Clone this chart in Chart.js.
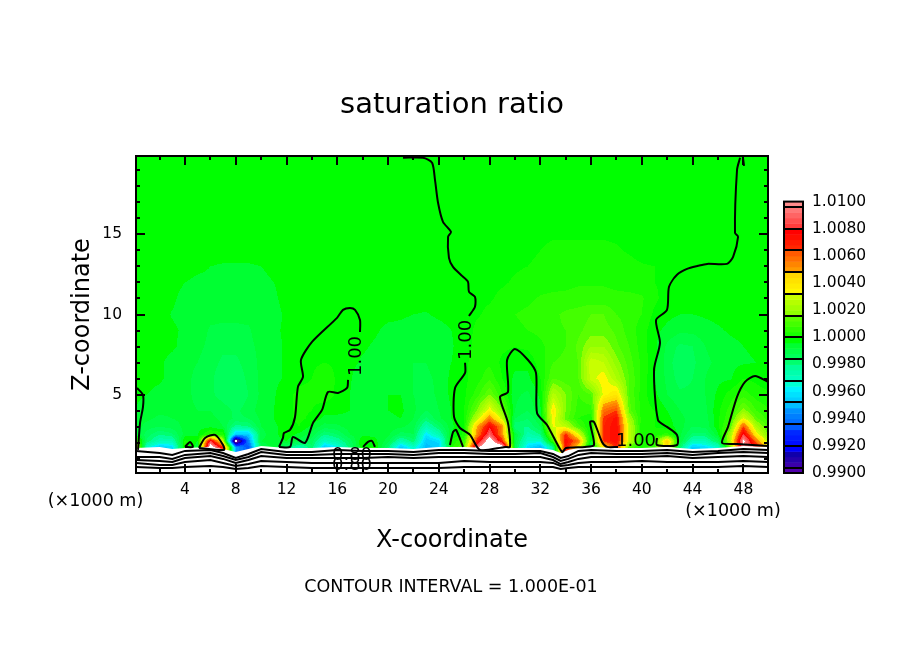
<!DOCTYPE html>
<html>
<head>
<meta charset="utf-8">
<style>html,body{margin:0;padding:0;background:#fff}canvas{display:block}</style>
<script src="https://cdn.jsdelivr.net/npm/chart.js@4/dist/chart.umd.js"></script>
</head>
<body>
<canvas id="c" width="904" height="654"></canvas>
<script>
const FONT = "'DejaVu Sans'";

// tick positions (km)
const xTicks = [2,4,6,8,10,12,14,16,18,20,22,24,26,28,30,32,34,36,38,40,42,44,46,48];
const xTickLabels = [4,8,12,16,20,24,28,32,36,40,44,48];
const zTicks = [1,2,3,4,5,6,7,8,9,10,11,12,13,14,15,16,17,18,19];
const zTickLabels = [5,10,15];
const barTicks = [0.99,0.992,0.994,0.996,0.998,1,1.002,1.004,1.006,1.008,1.01];

// colour bar, value in 1e-4 from 1.0
const barStops = [-100,-97,-96,-81,-80,-65,-64,-49,-48,-33,-32,-17,-16,-4,0,16,17,32,33,48,49,64,65,80,81,84,96,100];
const barColors = [
  [110,0,140],[110,0,140],[80,0,170],[0,0,170],[0,0,255],[0,50,255],[0,90,255],[0,160,255],[0,190,255],[0,255,255],
  [0,255,210],[0,255,140],[0,255,110],[0,255,50],[0,255,0],[90,255,0],[130,255,0],[200,255,0],[255,255,0],[255,215,0],
  [255,170,0],[255,90,0],[255,50,0],[255,0,0],[255,40,40],[255,60,60],[255,120,120],[255,140,140]
];

// saturation ratio, as (S - 1) * 1e4, one row per height
const xColumns = [0,1,2,3,4,5,6,7,8,9,10,11,12,13,14,15,16,17,18,19,20,21,22,23,24,25,26,27,28,29,30,31,32,33,34,35,36,37,38,39,40,41,42,43,44,45,46,47,48,49,50];
const zLevels = [1.7,2.1,2.5,3,3.5,4,5,6,7,8,9,10,11,12,13,14,16,20];
const rowZ1p7 = [50,-30,-45,-40,5,-5,115,70,-50,-65,-10,-4,-15,-25,-15,-45,-35,-15,2,2,-15,-45,-30,-48,-45,5,15,95,125,115,-10,-40,-50,-20,75,40,-8,40,70,15,2,10,45,-15,-45,-40,-30,20,95,80,40];
const rowZ2p1 = [20,-15,-25,-25,3,-2,85,30,-112,-55,-6,-3,-2,-8,-12,-28,-22,-12,2,-1,-8,-25,-15,-45,-40,3,10,70,112,70,-8,-30,-30,10,78,60,-4,70,78,30,3,8,50,-6,-25,-25,-12,30,105,60,25];
const rowZ2p5 = [-3,-12,-18,-15,-4,-2,8,5,-45,-45,-8,-3,0,-3,-8,-18,-14,-6,-3,-3,-5,-12,-10,-38,-25,-2,3,55,92,55,-5,-24,-18,25,70,35,-2,70,78,30,3,3,8,-5,-15,-15,-3,25,85,40,15];
const rowZ3 = [-3,-8,-10,-8,-5,-4,-3,-6,-20,-18,-6,-3,0,2,-3,-8,-7,-4,-4,-5,-4,-5,-8,-25,-14,-3,2,50,80,55,-18,-18,-10,35,30,12,1,70,78,30,3,2,0,-4,-10,-9,1,15,65,25,12];
const rowZ3p5 = [-2,-5,-7,-6,-5,-5,-5,-7,-11,-10,-5,-2,1,3,1,-3,-3,-3,-5,-5,-3,-2,-6,-15,-7,-2,2,28,58,30,-10,-14,-6,38,16,6,3,68,76,24,4,2,-1,-4,-9,-8,1,10,35,15,8];
const rowZ4 = [-2,-4,-5,-5,-5,-6,-6,-8,-11,-8,-4,-2,1,3,2,-1,-1,-2,-5,-4,-2,-1,-5,-10,-6,-2,2,18,38,18,-6,-10,-3,40,18,8,8,60,66,16,4,2,-2,-6,-10,-7,1,8,20,10,6];
const rowZ5 = [-1,-2,-3,-4,-5,-7,-9,-12,-14,-10,-5,-2.5,1,3,3,5,1,-2,-5,-4,-2,-2,-6,-8,-5,-1,1,8,18,6,-5,-7,-1,28,18,10,14,36,42,14,4,-1,-6,-9,-9,-6,-1,4,8,4,3];
const rowZ6 = [-1,-1,-1.5,-3,-5,-7,-9,-13,-13,-9,-5,-3,-1.5,1,2,6,1,-1.5,-5,-4,-3,-3,-6,-7,-5,-1,1,4,9,2,-3,-3,2,14,12,14,32,37,26,14,5,-2,-7,-12,-10,-6,-3,-2.5,2,1,-1];
const rowZ7 = [0,-1,-1.5,-3,-5,-6,-8,-11,-11,-8,-5,-3,-1.5,-1,1,2,1,-1,-2.5,-3,-4,-4,-6,-6,-4,-2,1,4,5,1,-1,-1,4,10,11,14,33,30,20,12,5,-1,-8,-13,-11,-7,-5,-3,-2.5,-2,-1.5];
const rowZ8 = [0,-1,-1,-1.5,-3,-5,-7,-9,-9,-7,-5,-3,-1.5,-1,-1,-1,-1,-1,-1.5,-2.5,-4,-4,-5,-5,-4,-2.5,0.5,3,4,3,2,3,5,8,10,15,22,22,15,10,4,-1,-7,-11,-10,-6,-4,-3,-2,-1.5,-1];
const rowZ9 = [0,-1,-1,-1.5,-2.5,-4,-6.5,-6.5,-6.5,-6.5,-4,-2.5,-1.5,-1,-1,-1,-1,-1,-1,-1.5,-3,-3,-3.5,-3.5,-3,-2,0,3,4,5,5,6,7,9,10,13,16,16,13,8,4,-1,-3,-5,-5,-3.5,-2.5,-1.5,-1,-1,-1];
const rowZ10 = [0,0,-1,-2.2,-3,-4,-5,-5.5,-5.5,-5,-4,-3,-1.5,-1,-1,-1,-1,-1,-0.5,-0.5,-1,-1.5,-2,-2.2,-1.5,-1,0,1.5,3,5,6,7,8,9,11,12,14,14,10,8,6,1,-1,-2,-2,-1.5,-1,-1,-1,-1,-1];
const rowZ11 = [0,0,-1,-1.5,-3,-3,-4,-4,-4,-4,-3,-2.5,-1,-1,-1,0,0,0,-1,-1,-1,-1,-1,-1,-1,0,1,1,1.5,3,4,5,6.5,7,7,7.5,7.5,7.5,7,7,6.5,3,0,-1,-1,-1,-1,-1,-1,0,0];
const rowZ12 = [0,0,0,-1,-2,-3,-3,-3,-3,-3,-3,-2,-1,0,0,0,0,0,0,0,0,0,0,0,0,0,0,1,1,1.5,2.5,3.5,4,4.5,5,5.5,5.5,5.5,5,4.5,4,2,1,0,0,0,0,0,0,0,0];
const rowZ13 = [0,0,0,0,0,-1,-2,-2.5,-2.5,-2.5,-2,-1,0,0,0,0,0,0,0,0,0,0,0,0,0,0,0,0,0,1,1.5,2,3,3.5,4,4,4,4,4,3.5,2.5,2,0.5,0,0,0,0,0,0,0,0];
const rowZ14 = [0,0,0,0,0,0,0,0,0,0,0,0,0,0,0,0,0,0,0,0,0,0,0,0,0,0,0,0,0,0,0,1,2,3,3,3,3,3,2.5,1.5,0,0,0,0,0,0,0,0,0,0,0];
const rowZ16 = [0,0,0,0,0,0,0,0,0,0,0,0,0,0,0,0,0,0,0,0,0,0,0,0,0,0,0,0,0,0,0,0,0,0,0,0,0,0,0,0,0,0,0,0,0,0,0,0,0,0,0];
const rowZ20 = [0,0,0,0,0,0,0,0,0,0,0,0,0,0,0,0,0,0,0,0,0,0,0,0,0,0,0,0,0,0,0,0,0,0,0,0,0,0,0,0,0,0,0,0,0,0,0,0,0,0,0];
const satRows = [rowZ1p7,rowZ2p1,rowZ2p5,rowZ3,rowZ3p5,rowZ4,rowZ5,rowZ6,rowZ7,rowZ8,rowZ9,rowZ10,rowZ11,rowZ12,rowZ13,rowZ14,rowZ16,rowZ20];

// terrain-hugging low contours
const groundX = [0.14,2,3,4,6,7,8,9,10,12,14,16,18,20,22,24,26,28,30,32,33,33.6,34.2,35,36,38,40,42,44,46,48,49.94];
const groundTop = [1.66,1.73,1.60,1.66,1.73,1.60,1.41,1.60,1.79,1.66,1.66,1.73,1.66,1.66,1.60,1.73,1.73,1.66,1.66,1.66,1.54,1.35,1.54,1.66,1.73,1.66,1.66,1.73,1.60,1.66,1.79,1.73];
const lowLine1 = [1.48,1.35,1.23,1.48,1.54,1.35,1.04,1.29,1.60,1.41,1.41,1.54,1.48,1.48,1.41,1.54,1.54,1.48,1.48,1.48,1.29,1.04,1.16,1.48,1.54,1.48,1.48,1.54,1.41,1.48,1.60,1.54];
const lowLine2 = [1.10,1.10,0.98,1.23,1.35,1.16,0.91,1.10,1.41,1.23,1.23,1.29,1.29,1.29,1.23,1.35,1.35,1.29,1.29,1.35,1.10,0.85,0.98,1.23,1.35,1.29,1.29,1.35,1.23,1.35,1.41,1.35];
const lowLine3 = [0.91,0.85,0.79,1.04,1.16,0.98,0.73,0.91,1.16,1.04,1.04,1.04,1.04,1.10,1.04,1.10,1.10,1.10,1.10,1.10,0.91,0.66,0.79,0.98,1.10,1.10,1.10,1.16,1.04,1.10,1.16,1.10];
const lowLine4 = [0.73,0.60,0.60,0.79,0.91,0.73,0.54,0.66,0.85,0.79,0.73,0.73,0.73,0.73,0.73,0.73,0.85,0.79,0.79,0.79,0.73,0.54,0.60,0.73,0.79,0.79,0.85,0.79,0.79,0.79,0.85,0.79];
const lowLine5 = [0.48,0.41,0.41,0.48,0.54,0.48,0.35,0.41,0.54,0.48,0.41,0.41,0.41,0.41,0.41,0.41,0.48,0.48,0.48,0.48,0.48,0.35,0.41,0.48,0.48,0.48,0.48,0.48,0.48,0.48,0.54,0.48];

// 1.00 contour pieces as [x, z] in km
const contourLeft = [[0.22,5.41],[0.69,4.98],[0.69,4.23],[0.46,3.23],[0.3,1.54]];
const contourTriangle = [[4.0,1.73],[4.4,2.04],[4.63,1.73],[4.0,1.73]];
const contourHump = [[5.1,1.66],[5.58,2.29],[6.37,2.48],[7.0,1.85],[7.07,1.54],[5.1,1.66]];
const contourTallA = [[11.41,1.73],[11.72,2.29],[11.8,2.6],[12.28,2.79],[12.67,3.6],[12.9,5.48],[13.3,6.1],[13.14,7.16],[14.01,8.29],[15.98,9.79],[16.45,10.29],[17.0,10.41],[17.4,10.29],[17.79,9.66],[17.79,8.91]];
const contourTallB = [[16.85,5.91],[16.77,5.41],[16.06,5.1],[15.27,5.16],[14.8,4.04],[14.09,3.23],[13.46,1.98],[12.51,2.35],[12.28,1.73],[11.41,1.73]];
const contourSmall = [[18.03,1.73],[18.42,2.04],[18.74,2.1],[18.97,1.73]];
const contourMidTop = [[21.18,19.79],[22.76,19.79],[23.47,19.48],[23.7,18.41],[23.94,16.98],[24.33,15.79],[24.96,15.16],[24.73,14.85],[24.8,13.54],[25.12,12.98],[25.83,12.41],[26.3,12.04],[26.38,11.41],[26.85,11.1],[26.85,10.48],[26.38,9.91]];
const contourMidLow = [[26.07,6.98],[26.07,6.35],[25.28,5.41],[25.2,3.6],[25.67,2.91],[26.46,2.48],[27.25,1.54],[29.22,1.73],[29.61,1.73],[29.45,3.23],[28.82,4.85],[29.45,5.16],[29.38,7.16],[30.0,7.85],[31.03,7.16],[31.66,6.35],[31.74,3.85],[32.53,3.1],[33.71,1.41],[34.02,1.66],[35.52,1.73],[36.23,1.85],[35.92,3.29],[36.23,3.29],[36.86,2.04],[37.26,1.73],[38.12,1.73]];
const contourSpike = [[24.88,1.85],[25.12,2.66],[25.36,2.79],[25.91,1.73]];
const contourEast = [[41.19,2.29],[41.19,1.85],[42.77,1.85],[42.77,2.48],[41.98,2.98],[41.27,3.41],[40.96,6.54],[41.43,8.23],[41.12,9.66],[41.98,10.29],[42.14,11.73],[42.77,12.48],[43.56,12.85],[44.43,13.04],[45.14,13.16],[46.71,13.16],[47.19,13.6],[47.58,14.85],[47.34,15.1],[47.5,19.04],[47.74,19.79]];
const contourEastTip = [[47.97,19.79],[48.05,19.29]];
const contourRight = [[49.94,1.79],[47.5,1.91],[46.32,1.98],[46.79,2.98],[47.5,4.85],[48.13,5.79],[48.92,6.16],[49.94,5.79]];
const contourPieces = [contourLeft,contourTriangle,contourHump,contourTallA,contourTallB,contourSmall,contourMidTop,contourMidLow,contourSpike,contourEast,contourEastTip,contourRight];

// in-line contour labels [text, x, z, rotated]
const contourLabels = [['1.00',17.48,7.41,true],['1.00',26.14,8.41,true],['1.00',39.54,2.1,false],['0.80',17.16,1.23,false],['0.80',17.16,0.6,false]];

function colorFor(a) {
  if (a > 100 || a < -100) return 'rgb(255,255,255)';
  const band = Math.round(a / 4) * 4;
  let i = 0;
  while (i < barStops.length - 2 && barStops[i + 1] < band) i++;
  const t = Math.min(1, Math.max(0, (band - barStops[i]) / (barStops[i + 1] - barStops[i])));
  const c = barColors[i].map((v, k) => Math.round(v + (barColors[i + 1][k] - v) * t));
  return `rgb(${c[0]},${c[1]},${c[2]})`;
}

function sampleGrid(x, z) {
  let r = 0;
  while (r < zLevels.length - 2 && zLevels[r + 1] < z) r++;
  const rt = Math.min(1, Math.max(0, (z - zLevels[r]) / (zLevels[r + 1] - zLevels[r])));
  const c = Math.min(xColumns.length - 2, Math.max(0, Math.floor(x)));
  const ct = Math.min(1, Math.max(0, x - xColumns[c]));
  const low = satRows[r][c] * (1 - ct) + satRows[r][c + 1] * ct;
  const high = satRows[r + 1][c] * (1 - ct) + satRows[r + 1][c + 1] * ct;
  return low * (1 - rt) + high * rt;
}

const heatPlugin = {
  id: 'heat',
  beforeDatasetsDraw(chart) {
    const { ctx, chartArea: a, scales: { x, y } } = chart;
    ctx.save();
    for (let px = Math.floor(a.left); px < a.right; px++) {
      const xv = x.getValueForPixel(px + 0.5);
      for (let py = Math.floor(a.top); py < a.bottom; py++) {
        ctx.fillStyle = colorFor(sampleGrid(xv, y.getValueForPixel(py + 0.5)));
        ctx.fillRect(px, py, 1, 1);
      }
    }
    ctx.restore();
  }
};

const framePlugin = {
  id: 'frame',
  afterDatasetsDraw(chart) {
    const { ctx, chartArea: a, scales: { x, y, y2 } } = chart;
    ctx.save();
    ctx.strokeStyle = '#000';
    ctx.fillStyle = '#000';

    // inward ticks on all four sides
    ctx.lineWidth = 2;
    ctx.beginPath();
    xTicks.forEach(v => {
      const px = Math.round(x.getPixelForValue(v));
      const len = xTickLabels.includes(v) ? 9 : 4;
      ctx.moveTo(px, a.top); ctx.lineTo(px, a.top + len);
      ctx.moveTo(px, a.bottom); ctx.lineTo(px, a.bottom - len);
    });
    zTicks.forEach(v => {
      const py = Math.round(y.getPixelForValue(v));
      const len = zTickLabels.includes(v) ? 9 : 4;
      ctx.moveTo(a.left, py); ctx.lineTo(a.left + len, py);
      ctx.moveTo(a.right, py); ctx.lineTo(a.right - len, py);
    });
    ctx.stroke();
    ctx.strokeRect(a.left, a.top, a.right - a.left, a.bottom - a.top);

    // contour labels
    ctx.textAlign = 'center';
    ctx.textBaseline = 'middle';
    ctx.font = `18px ${FONT}`;
    contourLabels.forEach(([text, xv, zv, rotated]) => {
      ctx.save();
      ctx.translate(x.getPixelForValue(xv), y.getPixelForValue(zv));
      if (rotated) ctx.rotate(-Math.PI / 2);
      ctx.fillText(text, 0, 0);
      ctx.restore();
    });

    // colour bar, follows the right hand axis
    const barLeft = 784, barRight = 803;
    const barTop = y2.getPixelForValue(1.01), barBottom = y2.getPixelForValue(0.99);
    for (let a4 = -100; a4 < 100; a4 += 4) {
      const yA = y2.getPixelForValue(1 + (a4 + 4) / 10000);
      const yB = y2.getPixelForValue(1 + a4 / 10000);
      ctx.fillStyle = colorFor(a4 + 2);
      ctx.fillRect(barLeft, yA, barRight - barLeft, yB - yA + 0.5);
    }
    ctx.beginPath();
    for (let a16 = -96; a16 < 100; a16 += 16) {
      const py = Math.round(y2.getPixelForValue(1 + a16 / 10000));
      ctx.moveTo(barLeft, py); ctx.lineTo(barRight, py);
    }
    ctx.stroke();
    ctx.strokeRect(barLeft, barTop, barRight - barLeft, barBottom - barTop);

    // annotation text
    ctx.fillStyle = '#000';
    ctx.font = `17.5px ${FONT}`;
    ctx.fillText('(\u00d71000 m)', 95.5, 501);
    ctx.fillText('(\u00d71000 m)', 733, 511);
    ctx.fillText('CONTOUR INTERVAL = 1.000E-01', 451, 587);
    ctx.restore();
  }
};

const lineStyle = { showLine: true, borderColor: '#000', borderWidth: 2, pointRadius: 0, tension: 0, fill: false };
const datasets = [];
contourPieces.forEach(piece => {
  datasets.push({ ...lineStyle, tension: 0.25, data: piece.map(p => ({ x: p[0], y: p[1] })) });
});
[lowLine1, lowLine2, lowLine3, lowLine4, lowLine5].forEach(line => {
  datasets.push({ ...lineStyle, data: groundX.map((x, i) => ({ x, y: line[i] })) });
});
// first datasets paint on top, so the white ground goes last
datasets.push({ ...lineStyle, data: groundX.map((x, i) => ({ x, y: groundTop[i] })), borderWidth: 0, fill: 'start', backgroundColor: '#fff' });

new Chart(document.getElementById('c'), {
  type: 'scatter',
  data: { datasets },
  plugins: [heatPlugin, framePlugin],
  options: {
    responsive: false,
    animation: false,
    devicePixelRatio: 1,
    layout: { padding: 0 },
    plugins: {
      legend: { display: false },
      tooltip: { enabled: false },
      title: {
        display: true,
        text: 'saturation ratio',
        color: '#000',
        font: { family: FONT, size: 29, weight: 'normal', lineHeight: 1.2 },
        padding: { top: 87.6, bottom: 33.6 }
      }
    },
    scales: {
      x: {
        type: 'linear',
        min: 0.14,
        max: 49.94,
        afterBuildTicks: s => { s.ticks = xTicks.map(value => ({ value })); },
        afterFit: s => { s.height = 181; },
        grid: { display: false },
        border: { display: false },
        ticks: {
          color: '#000',
          autoSkip: false,
          maxRotation: 0,
          padding: 0,
          font: { family: FONT, size: 15.5 },
          callback: v => (xTickLabels.includes(v) ? String(v) : '')
        },
        title: {
          display: true,
          text: 'X-coordinate',
          color: '#000',
          font: { family: FONT, size: 24, lineHeight: 1.2 },
          padding: { top: 0, bottom: 98.6 }
        }
      },
      y: {
        type: 'linear',
        position: 'left',
        min: 0.1,
        max: 19.9,
        afterBuildTicks: s => { s.ticks = zTicks.map(value => ({ value })); },
        afterFit: s => { s.width = 136; },
        grid: { display: false },
        border: { display: false },
        ticks: {
          color: '#000',
          autoSkip: false,
          padding: 6,
          font: { family: FONT, size: 15.5 },
          callback: v => (zTickLabels.includes(v) ? String(v) : '')
        },
        title: {
          display: true,
          text: 'Z-coordinate',
          color: '#000',
          font: { family: FONT, size: 24, lineHeight: 1.2 },
          padding: { top: 68.6, bottom: 0 }
        }
      },
      y2: {
        type: 'linear',
        position: 'right',
        min: 0.99,
        max: 1.01336,
        afterBuildTicks: s => { s.ticks = barTicks.map(value => ({ value })); },
        afterFit: s => { s.width = 136; },
        grid: { display: false },
        border: { display: false },
        ticks: {
          color: '#000',
          autoSkip: false,
          padding: 36,
          font: { family: FONT, size: 15.5 },
          callback: v => v.toFixed(4)
        }
      }
    }
  }
});
</script>
</body>
</html>
